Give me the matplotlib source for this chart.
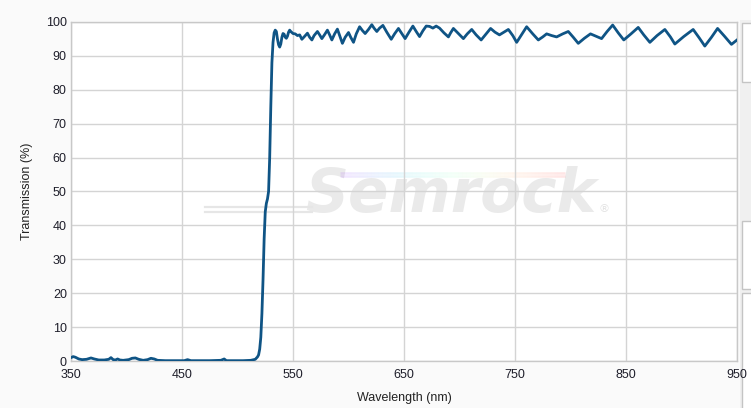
import numpy as np
import matplotlib
matplotlib.use('Agg')
import matplotlib.pyplot as plt
from matplotlib.patches import Rectangle
from matplotlib.collections import LineCollection

# длины волн (нм) и пропускание (%)
wavelength = [350, 352, 354, 357, 360, 364, 368, 371, 375, 380, 384, 386, 388, 390,
              392, 394, 397, 402, 405, 408, 411, 415, 419, 422, 425, 428, 435, 445,
              452, 455, 458, 465, 475, 485, 488, 490, 495, 505, 512, 516, 518,
              519, 520, 521, 522, 523, 524, 525, 526, 527, 528, 529, 530, 531, 532,
              533, 534, 535, 536, 537, 538, 539, 540, 541, 542, 543, 544, 545, 546,
              547, 548, 550, 552, 554, 556, 558, 560, 563, 565, 567, 569, 572, 574,
              576, 578.5, 581, 583, 585, 587.5, 590, 592, 594.5, 597, 600, 602,
              604.5, 607, 610, 612.5, 615, 618, 621, 623, 625.5, 628, 631, 634.5,
              638.5, 641.5, 645, 648, 651, 654.5, 658, 661, 664, 667, 670, 673, 676,
              679, 682, 686, 690, 692, 694.5, 699, 703.5, 707, 711, 715, 719.5, 724,
              728, 732, 736, 740, 744, 748, 751.5, 756, 760.5, 766, 771, 775, 778.5,
              783, 787.5, 793, 798, 802.5, 807, 812.5, 818, 823, 828, 833, 838, 843,
              848, 854.5, 861, 866, 871.5, 878, 885, 890, 894, 902, 910.5, 916, 921,
              927, 932.5, 939, 945, 948, 950]
transmission = [1.0, 1.3, 1.1, 0.6, 0.4, 0.5, 0.9, 0.6, 0.3, 0.3, 0.5, 1.0, 0.4, 0.3,
                0.6, 0.3, 0.2, 0.4, 0.8, 0.9, 0.5, 0.2, 0.4, 0.8, 0.6, 0.2, 0.1, 0.1,
                0.1, 0.4, 0.1, 0.1, 0.1, 0.2, 0.6, 0.1, 0.1, 0.1, 0.2, 0.5, 1.2,
                1.8, 3.5, 7, 14, 24, 36, 44, 46.5, 47.8, 50, 60, 75, 88, 94,
                96.8, 97.6, 97.2, 95, 93.3, 92.6, 93.5, 95.5, 96.6, 96.4, 95.5, 95.2, 95.8, 97,
                97.6, 97.2, 96.6, 96.5, 96.0, 96.2, 94.9, 95.6, 96.7, 95.5, 94.7, 96, 97.2, 96.2,
                95.1, 96.3, 97.6, 96.2, 94.7, 96.5, 97.9, 96, 93.7, 95.5, 96.9, 95.5,
                94.0, 96.5, 98.6, 97.5, 96.6, 97.8, 99.2, 98.2, 97.2, 98.2, 99.0, 97.0,
                94.9, 96.5, 98.1, 96.6, 95.1, 97, 98.8, 97.2, 95.7, 97.4, 98.8, 98.7, 98.2,
                98.8, 98.2, 96.8, 95.6, 96.8, 98.1, 96.6, 95.1, 96.5, 97.8, 96.2, 94.7, 96.5,
                98.1, 97.0, 96.2, 97.0, 97.8, 96.0, 94.0, 96.3, 98.6, 96.5, 94.7, 95.6, 96.5,
                96.0, 95.6, 96.5, 97.2, 95.5, 93.7, 95.2, 96.5, 95.8, 95.1, 97.2, 99.1, 96.8,
                94.7, 96.5, 98.4, 96.2, 94.0, 96.0, 97.8, 95.6, 93.5, 95.7, 97.8, 95.3, 92.9,
                95.5, 98.1, 95.7, 93.4, 94.2, 94.7]

x_ticks = [350, 450, 550, 650, 750, 850, 950]
y_ticks = list(range(0, 101, 10))

W, H = 751, 408
fig = plt.figure(figsize=(W / 100, H / 100), dpi=100)
fig.patch.set_facecolor('#fafafa')


def fx(px):
    return px / W


def fy(py):
    return 1 - py / H


# плашки справа (кусок интерфейса), под осями
def px_rect(x0, y0, x1, y1, **kw):
    fig.patches.append(Rectangle((fx(x0), fy(y1)), (x1 - x0) / W, (y1 - y0) / H,
                                 transform=fig.transFigure, figure=fig, zorder=-1, **kw))


px_rect(740, 20, 760, 420, facecolor='#f0f0f0', edgecolor='none')
px_rect(742, 23, 760, 82, facecolor='white', edgecolor='#c4c4c4', lw=1)
px_rect(742, 221, 760, 289, facecolor='white', edgecolor='#c4c4c4', lw=1)
px_rect(742, 293, 760, 420, facecolor='white', edgecolor='#c4c4c4', lw=1)

ax = fig.add_axes([fx(71), fy(361), (737 - 71) / W, (361 - 22) / H])
ax.set_facecolor('white')

# водяной знак
ax.text(fx(305), fy(212), 'Semrock', transform=fig.transFigure, family='DejaVu Sans',
        fontsize=43, fontweight='bold', style='oblique', color='#eaeaea',
        ha='left', va='baseline', zorder=0.2)
ax.text(fx(599), fy(212), '®', transform=fig.transFigure, fontsize=8,
        color='#e2e2e2', ha='left', va='baseline', zorder=0.2)
for yy in (207, 211.5):
    ax.plot([fx(205), fx(312)], [fy(yy)] * 2, transform=fig.transFigure,
            color='#e6e6e6', lw=1.6, zorder=0.2, clip_on=False)
xs = np.linspace(fx(340), fx(565), 60)
cols = plt.cm.rainbow(np.linspace(0, 1, len(xs) - 1))
for yy in (172.5, 176):
    segs = [[(xs[i], fy(yy)), (xs[i + 1], fy(yy))] for i in range(len(xs) - 1)]
    lc = LineCollection(segs, colors=cols, lw=1.8, alpha=0.1, zorder=0.2,
                        transform=fig.transFigure)
    ax.add_collection(lc, autolim=False)

ax.plot(wavelength, transmission, color='#0f5485', lw=2, zorder=3)

ax.set_xlim(350, 950)
ax.set_ylim(0, 100)
ax.set_xticks(x_ticks)
ax.set_yticks(y_ticks)
ax.set_axisbelow(True)
ax.grid(True, color='#d4d4d4', lw=1)
for s in ax.spines.values():
    s.set_color('#c8c8c8')
    s.set_linewidth(1)
ax.tick_params(axis='both', length=0, labelsize=9, labelcolor='#1e1e2a')
ax.tick_params(axis='x', pad=6)
ax.tick_params(axis='y', pad=3)
for lab in ax.get_xticklabels() + ax.get_yticklabels():
    lab.set_family('Liberation Sans')

ax.set_xlabel('Wavelength (nm)', fontsize=9, family='Liberation Sans', color='#222222', labelpad=8)
ax.set_ylabel('Transmission (%)', fontsize=9, family='Liberation Sans', color='#222222', labelpad=9)

fig.savefig('out.png', dpi=100, facecolor=fig.get_facecolor())
